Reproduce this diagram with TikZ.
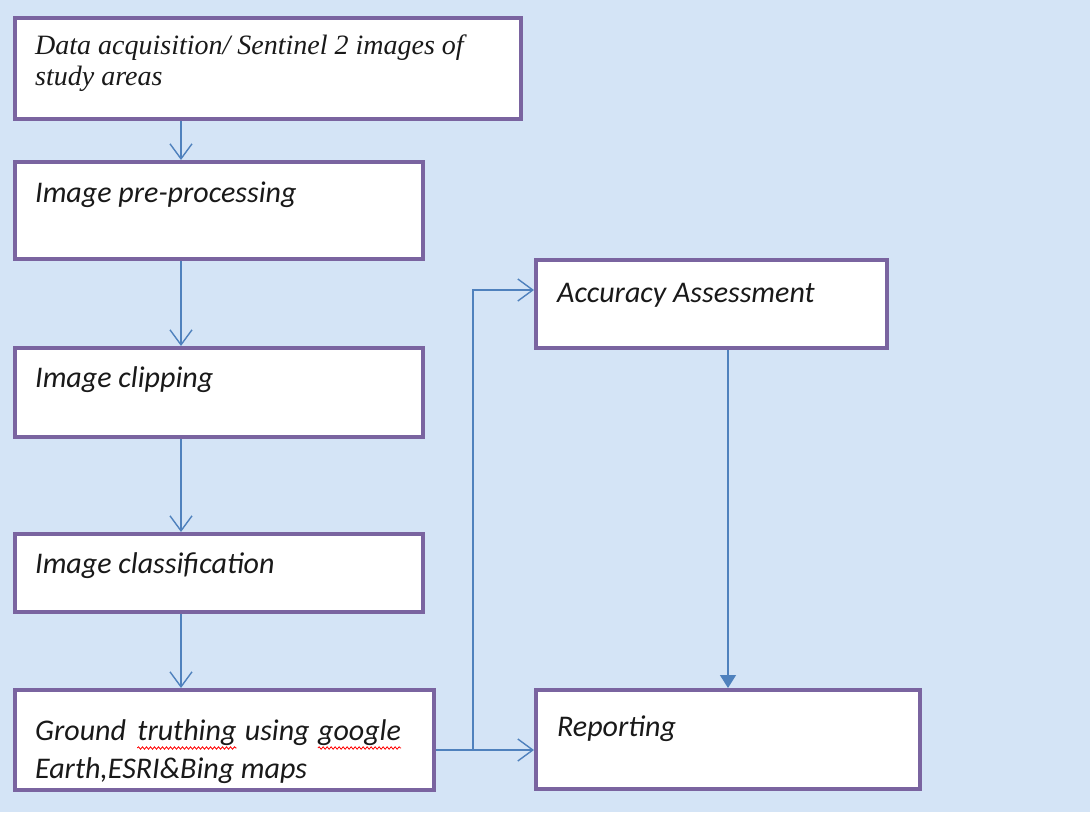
\documentclass[tikz,border=0pt]{standalone}
\usepackage{fontspec}
\usepackage{xcolor}
\usepackage{tikz}
\usetikzlibrary{arrows.meta, decorations.pathmorphing}

\newfontfamily\calfont{Carlito}
\newfontfamily\timesfont{Liberation Serif}
\definecolor{bgblue}{RGB}{212,228,246}
\definecolor{boxpurple}{RGB}{122,100,160}
\definecolor{linkblue}{RGB}{79,129,189}

\begin{document}
\begin{tikzpicture}[x=1pt, y=-1pt,
    box/.style={draw=boxpurple, line width=4pt, fill=white, anchor=north west, inner sep=0pt},
    txt/.style={anchor=base west, inner sep=0pt, text=black!90, font=\calfont\itshape\fontsize{30}{36}\selectfont},
    serif/.style={txt, font=\timesfont\itshape\fontsize{28}{33}\selectfont},
    wave/.style={draw=red, line width=0.8pt, decorate, decoration={snake, amplitude=1.2pt, segment length=4pt}},
    conn/.style={draw=linkblue, line width=1.4pt, -{Straight Barb[length=15pt,width=22pt]}},
    fconn/.style={draw=linkblue, line width=1.4pt, -{Triangle[length=13pt,width=16pt]}}]
            \fill[bgblue] (0,0) rectangle (1090,812);

            \node[box, minimum width=506pt, minimum height=101pt] (acq) at (13,16) {};
            \node[box, minimum width=408pt, minimum height=97pt] (pre) at (13,160) {};
            \node[box, minimum width=408pt, minimum height=89pt] (clip) at (13,346) {};
            \node[box, minimum width=408pt, minimum height=78pt] (cls) at (13,532) {};
            \node[box, minimum width=419pt, minimum height=100pt] (grd) at (13,688) {};
            \node[box, minimum width=351pt, minimum height=88pt] (acc) at (534,258) {};
            \node[box, minimum width=384pt, minimum height=99pt] (rep) at (534,688) {};

            \node[serif] (acqa) at (35,54) {Data acquisition/ Sentinel 2 images of};
            \node[serif] (acqb) at (35,85) {study areas};
            \node[txt] (pretx) at (35,202) {Image pre-processing};
            \node[txt] (cliptx) at (35,387) {Image clipping};
            \node[txt] (clstx) at (35,573) {Image classification};
            \node[txt] (grda) at (35,740) {Ground};
            \node[txt] (grdb) at ([xshift=11pt]grda.base east) {truthing};
            \node[txt] (grdc) at ([xshift=8pt]grdb.base east) {using};
            \node[txt] (grdd) at ([xshift=8pt]grdc.base east) {google};
            \node[txt] (grde) at (35,778) {Earth,ESRI\&Bing maps};
            \node[txt] (acctx) at (557,302) {Accuracy Assessment};
            \node[txt] (reptx) at (557,736) {Reporting};

            \draw[wave] ([yshift=-8pt]grdb.base west) -- ([yshift=-8pt]grdb.base east);
            \draw[wave] ([yshift=-8pt]grdd.base west) -- ([yshift=-8pt]grdd.base east);

            \coordinate (spine) at (181,0);
            \coordinate (fork) at (473,750);
            \coordinate (up) at (473,290);
            \coordinate (drop) at (728,0);

            \draw[conn] (spine |- acq.south) -- (spine |- pre.north);
            \draw[conn] (spine |- pre.south) -- (spine |- clip.north);
            \draw[conn] (spine |- clip.south) -- (spine |- cls.north);
            \draw[conn] (spine |- cls.south) -- (spine |- grd.north);
            \draw[conn] (grd.east |- fork) -- (rep.west |- fork);
            \draw[conn] (fork) -- (up) -- (acc.west |- up);
            \draw[fconn] (drop |- acc.south) -- (drop |- rep.north);
\end{tikzpicture}
\end{document}
